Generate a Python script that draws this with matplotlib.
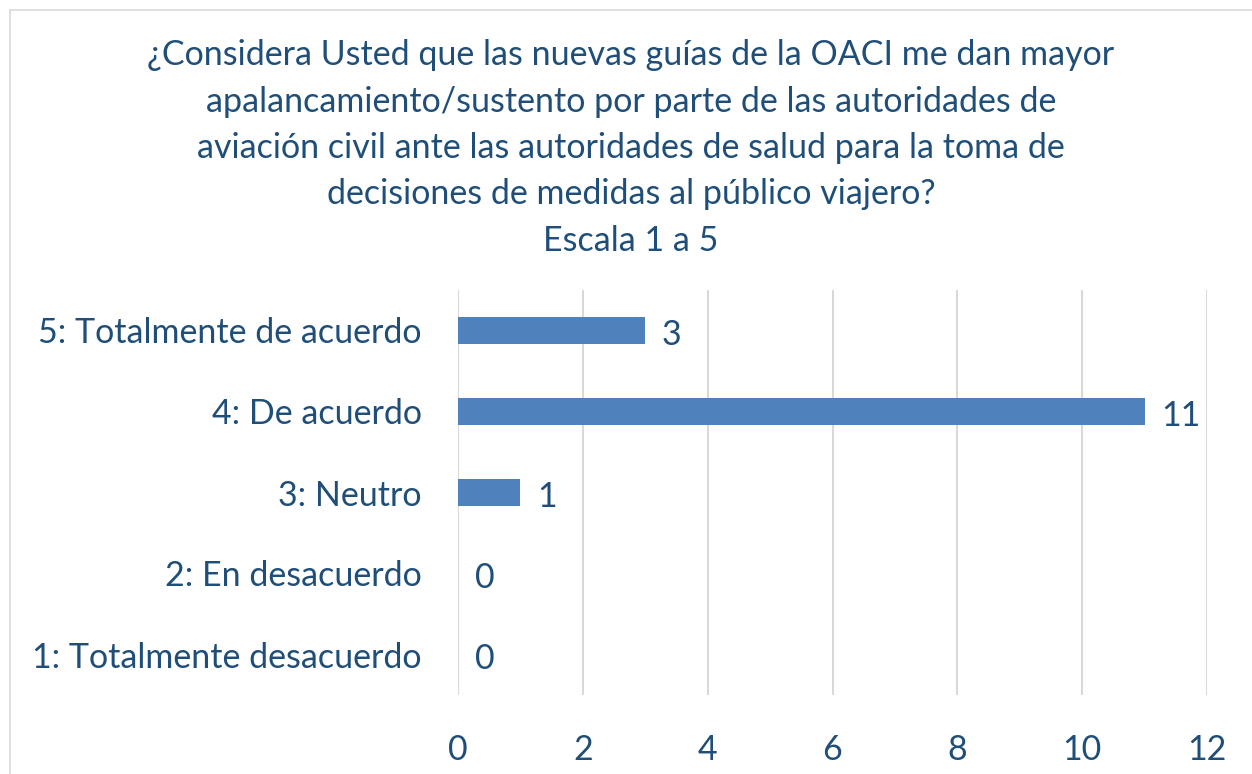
import matplotlib
matplotlib.use("Agg")
import matplotlib.pyplot as plt
from matplotlib.patches import Rectangle

categories = ["1: Totalmente desacuerdo", "2: En desacuerdo", "3: Neutro",
              "4: De acuerdo", "5: Totalmente de acuerdo"]
values = [0, 0, 1, 11, 3]
xticks = [0, 2, 4, 6, 8, 10, 12]
title = ("¿Considera Usted que las nuevas guías de la OACI me dan mayor\n"
         "apalancamiento/sustento por parte de las autoridades de\n"
         "aviación civil ante las autoridades de salud para la toma de\n"
         "decisiones de medidas al público viajero?\n"
         "Escala 1 a 5")

TXT = "#1F4E79"
BAR = "#4F81BD"
FS = 24.5
plt.rcParams['font.family'] = ['Lato', 'DejaVu Sans']

W, H = 1252, 774
fig = plt.figure(figsize=(W/100, H/100), dpi=100)
fig.patches.append(Rectangle((10/W, -0.1), 1.2, (H-10)/H + 0.1, transform=fig.transFigure,
                             fill=False, edgecolor="#D9D9D9", linewidth=1.2))

ax = fig.add_axes([458/W, 1-695/H, (1207-458)/W, (695-290)/H])
y = list(range(len(categories)))
ax.barh(y, values, height=0.34, color=BAR, zorder=3)
for yi, v in zip(y, values):
    ax.annotate(str(v), (v, yi), xytext=(12, -3), textcoords="offset points",
                va="center", ha="left", fontsize=FS, color=TXT)
ax.set_xlim(0, 12)
ax.set_ylim(-0.5, len(categories) - 0.5)
ax.set_xticks(xticks)
ax.set_xticklabels([str(t) for t in xticks])
ax.set_yticks(y)
ax.set_yticklabels(categories)
ax.tick_params(axis='both', length=0, labelsize=FS, labelcolor=TXT)
ax.tick_params(axis='x', pad=28)
ax.tick_params(axis='y', pad=26)
ax.grid(axis='x', color="#D9D9D9", linewidth=1.5, zorder=0)
for s in ax.spines.values():
    s.set_visible(False)

fig.text(631/W, 1-148/H, title, ha="center", va="center", fontsize=FS,
         color=TXT, linespacing=1.55)

fig.savefig("out.png", dpi=100)
